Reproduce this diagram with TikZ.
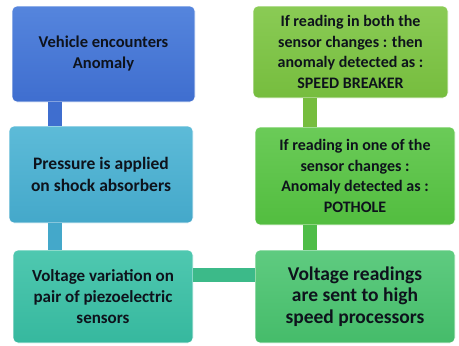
\documentclass[tikz,border=0pt]{standalone}
\usepackage{fontspec}
\setmainfont{Carlito}
\definecolor{cA}{HTML}{3F6ECF}
\definecolor{cAt}{HTML}{5585DD}
\definecolor{cB}{HTML}{44A8CA}
\definecolor{cBt}{HTML}{5DBBD8}
\definecolor{cC}{HTML}{36B89E}
\definecolor{cCt}{HTML}{4FC8B0}
\definecolor{cD}{HTML}{45BC6A}
\definecolor{cDt}{HTML}{5FCB80}
\definecolor{cE}{HTML}{52BD3F}
\definecolor{cEt}{HTML}{6BCB58}
\definecolor{cF}{HTML}{76BD3E}
\definecolor{cFt}{HTML}{8ACB55}
\definecolor{txt}{HTML}{0E131C}
\tikzset{
  box/.style={rectangle, rounded corners=5pt, align=center,
    text=txt, inner sep=2pt, draw=white, line width=0.6pt},
  conn/.style={line width=14pt},
}
\begin{document}
\begin{tikzpicture}[x=1pt,y=-1pt]
\useasboundingbox (0,0) rectangle (459,346);
\coordinate (cl) at (54.5,0);
\coordinate (cr) at (310,0);
\coordinate (ch) at (0,275);
\node[box, top color=cAt, bottom color=cA, minimum width=183pt, minimum height=96pt,
  font=\bfseries\fontsize{16.5}{21}\selectfont] (b1) at (103.5,54) {Vehicle encounters\\Anomaly};
\node[box, top color=cBt, bottom color=cB, minimum width=184pt, minimum height=97pt,
  font=\bfseries\fontsize{17.5}{21.5}\selectfont] (b2) at (101,174.5) {Pressure is applied\\on shock absorbers};
\node[box, top color=cCt, bottom color=cC, minimum width=180pt, minimum height=93pt,
  font=\bfseries\fontsize{17}{21}\selectfont] (b3) at (103,296.5) {Voltage variation on\\pair of piezoelectric\\sensors};
\node[box, top color=cDt, bottom color=cD, minimum width=200pt, minimum height=93pt,
  font=\bfseries\fontsize{19.5}{21.5}\selectfont] (b4) at (355,296.5) {Voltage readings\\are sent to high\\speed processors};
\node[box, top color=cEt, bottom color=cE, minimum width=200pt, minimum height=98pt,
  font=\bfseries\fontsize{16}{20.5}\selectfont] (b5) at (355,176) {If reading in one of the\\sensor changes :\\Anomaly detected as :\\POTHOLE};
\node[box, top color=cFt, bottom color=cF, minimum width=195pt, minimum height=92pt,
  font=\bfseries\fontsize{16}{20.5}\selectfont] (b6) at (350.5,52) {If reading in both the\\sensor changes : then\\anomaly detected as :\\SPEED BREAKER};
\draw[conn, draw=cA] (b1.south -| cl) -- (b2.north -| cl);
\draw[conn, draw=cB] (b2.south -| cl) -- (b3.north -| cl);
\draw[conn, draw=cC!60!cD] (b3.east |- ch) -- (b4.west |- ch);
\draw[conn, draw=cE!80!cD] (b4.north -| cr) -- (b5.south -| cr);
\draw[conn, draw=cF] (b5.north -| cr) -- (b6.south -| cr);
\end{tikzpicture}
\end{document}
